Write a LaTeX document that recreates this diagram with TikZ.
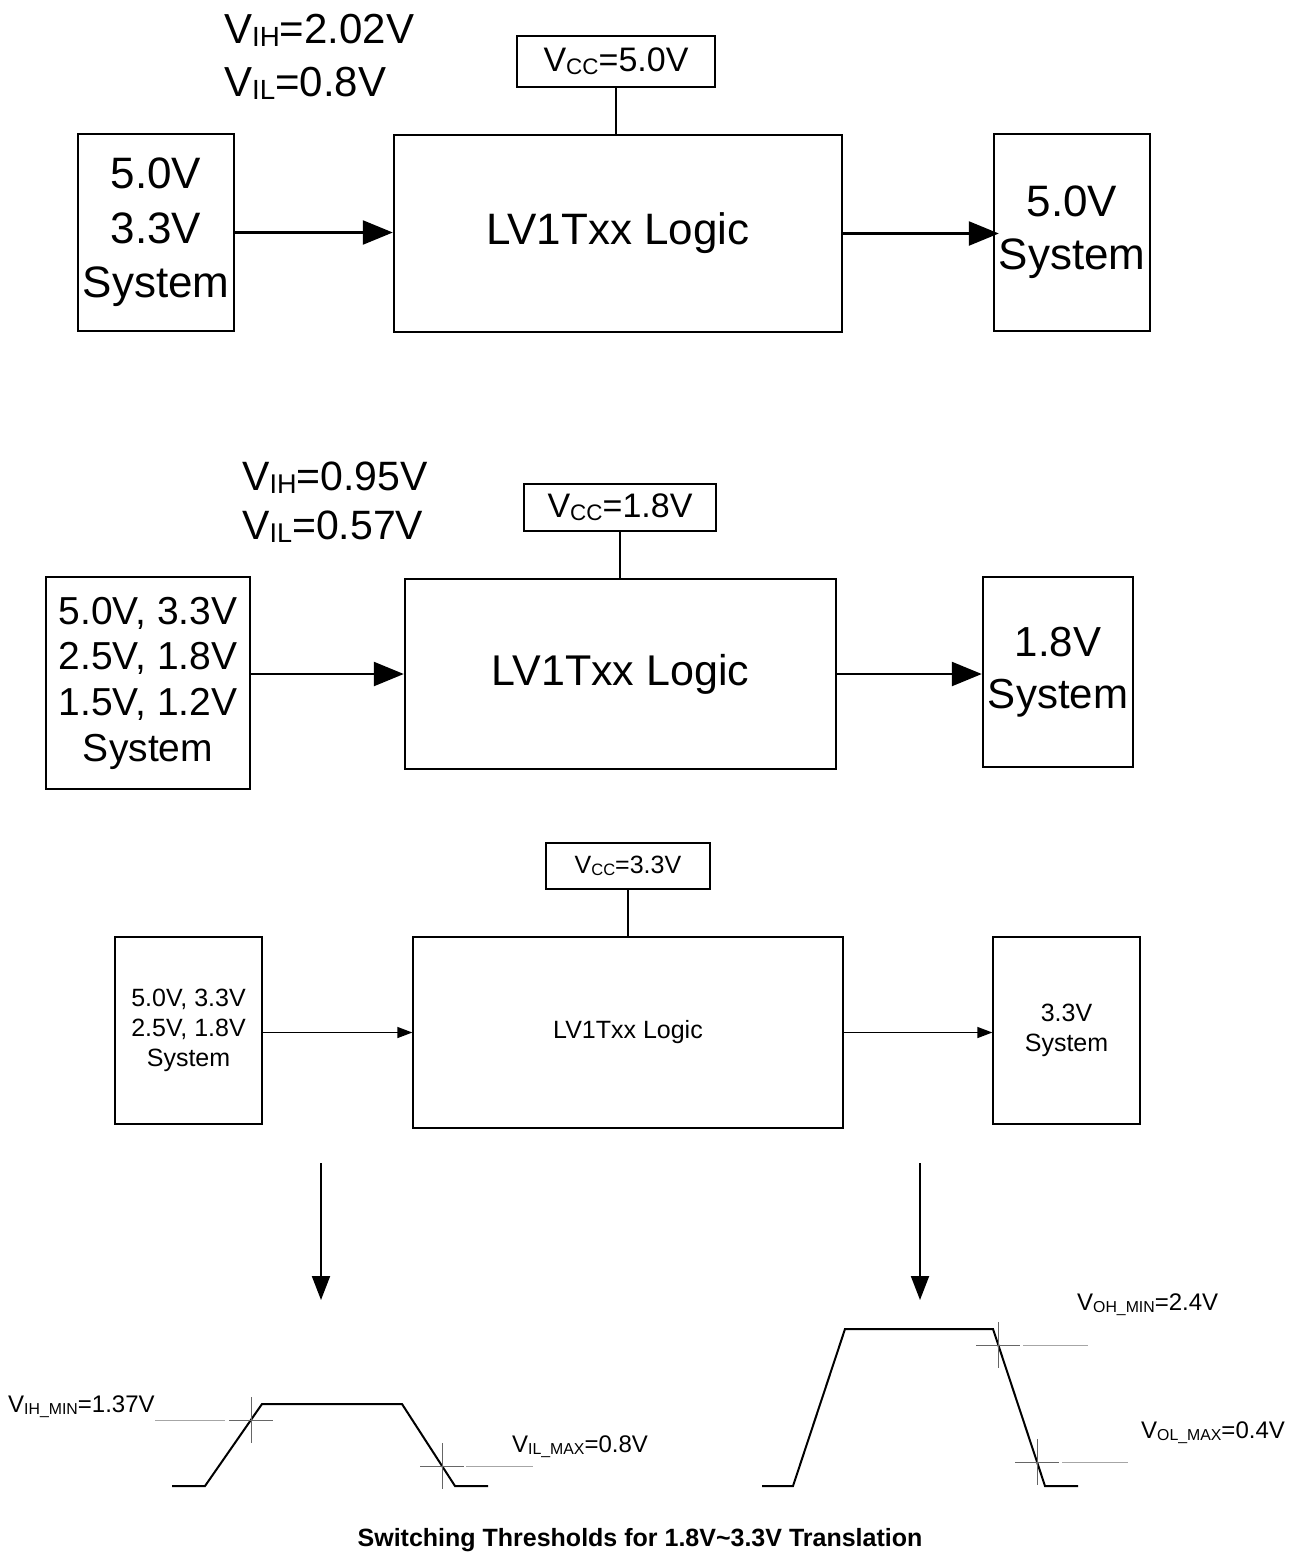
\documentclass[tikz,border=0pt]{standalone}
\usepackage{fontspec}
\usepackage{graphicx}
\setmainfont{Liberation Sans}
\usetikzlibrary{arrows.meta}

% small lowered index, as in V_IH
\newcommand{\vsub}[1]{\raisebox{-0.08em}{\scalebox{0.66}{#1}}}

\tikzset{
  blk/.style={draw, line width=2.4pt, align=center, inner sep=0pt},
  thinblk/.style={draw, line width=1.3pt, align=center, inner sep=0pt},
  bigarrow/.style={line width=2.4pt, -{Triangle[length=30pt,width=24pt]}},
  smallarrow/.style={line width=1.3pt, -{Triangle[length=15pt,width=11pt]}},
  downarrow/.style={line width=2pt, -{Triangle[length=24pt,width=18pt]}},
  wave/.style={line width=2pt},
  xhair/.style={gray!80!black, line width=1pt},
  guide/.style={gray!70, line width=0.9pt},
}

\begin{document}
\begin{tikzpicture}[x=1pt,y=-1pt]
\useasboundingbox (0,0) rectangle (1304,1553);

% VCC = 5.0V
\node[blk, minimum width=156pt, minimum height=197pt, font=\fontsize{44}{54.5}\selectfont] (in1) at (156,232.5) {5.0V\\3.3V\\System};
\node[blk, minimum width=448pt, minimum height=197pt, font=\fontsize{44}{53}\selectfont] (logic1) at (618,233.5) {LV1Txx Logic};
\node[blk, minimum width=198pt, minimum height=51pt, font=\fontsize{34}{40}\selectfont] (vcc1) at (616,61.5) {V\vsub{CC}=5.0V};
\node[blk, minimum width=156pt, minimum height=197pt, font=\fontsize{44}{53}\selectfont] (out1) at (1072,232.5) {5.0V\\System};
\node[anchor=west, align=left, inner sep=0pt, font=\fontsize{42}{53}\selectfont] (th1) at (224,57) {V\vsub{IH}=2.02V\\V\vsub{IL}=0.8V};
\draw[line width=2.4pt] (vcc1.south) -- (vcc1.south |- logic1.north);
\draw[bigarrow] (in1.east) -- (in1.east -| logic1.west);
\draw[bigarrow, shorten >=-6pt] (logic1.east) -- (logic1.east -| out1.west);

% VCC = 1.8V
\node[blk, minimum width=204pt, minimum height=212pt, font=\fontsize{39}{45.7}\selectfont] (in2) at (148,683) {5.0V, 3.3V\\2.5V, 1.8V\\1.5V, 1.2V\\System};
\node[blk, minimum width=431pt, minimum height=190pt, font=\fontsize{43}{52}\selectfont] (logic2) at (620.5,674) {LV1Txx Logic};
\node[blk, minimum width=192pt, minimum height=47pt, font=\fontsize{34}{40}\selectfont] (vcc2) at (620,507.5) {V\vsub{CC}=1.8V};
\node[blk, minimum width=150pt, minimum height=190pt, font=\fontsize{42}{52}\selectfont] (out2) at (1058,672) {1.8V\\System};
\node[anchor=west, align=left, inner sep=0pt, font=\fontsize{41}{49}\selectfont] (th2) at (242,502.5) {V\vsub{IH}=0.95V\\V\vsub{IL}=0.57V};
\draw[line width=2.4pt] (vcc2.south) -- (vcc2.south |- logic2.north);
\draw[bigarrow] (logic2.west -| in2.east) -- (logic2.west);
\draw[bigarrow] (logic2.east) -- (logic2.east -| out2.west);

% VCC = 3.3V
\node[thinblk, minimum width=147pt, minimum height=187pt, font=\fontsize{25}{30}\selectfont] (in3) at (188.5,1030.5) {5.0V, 3.3V\\2.5V, 1.8V\\System};
\node[thinblk, minimum width=430pt, minimum height=191pt, font=\fontsize{25}{30}\selectfont] (logic3) at (628,1032.5) {LV1Txx Logic};
\node[thinblk, minimum width=164pt, minimum height=46pt, font=\fontsize{25}{30}\selectfont] (vcc3) at (628,866) {V\vsub{CC}=3.3V};
\node[thinblk, minimum width=147pt, minimum height=187pt, font=\fontsize{25}{30}\selectfont] (out3) at (1066.5,1030.5) {3.3V\\System};
\draw[line width=1.3pt] (vcc3.south) -- (vcc3.south |- logic3.north);
\draw[smallarrow] (logic3.west -| in3.east) -- (logic3.west);
\draw[smallarrow] (logic3.east) -- (logic3.east -| out3.west);

% arrows down to the waveforms
\coordinate (inTop) at (321,1163);
\coordinate (inBot) at (321,1300);
\coordinate (outTop) at (920,1163);
\coordinate (outBot) at (920,1300);
\draw[downarrow] (inTop) -- (inBot);
\draw[downarrow] (outTop) -- (outBot);

% input waveform
\draw[wave] (172,1486) -- (205,1486) -- (262,1404) -- (402,1404) -- (455,1486) -- (488,1486);
\draw[xhair] (229,1420) -- (273,1420);
\draw[xhair] (251,1397) -- (251,1443);
\draw[guide] (155,1420) -- (225,1420);
\draw[xhair] (420,1466) -- (464,1466);
\draw[xhair] (442,1443) -- (442,1489);
\draw[guide] (466,1466) -- (533,1466);
\node[anchor=west, inner sep=0pt, font=\fontsize{24}{28}\selectfont] (vihmin) at (8,1407) {V\vsub{IH\_MIN}=1.37V};
\node[anchor=west, inner sep=0pt, font=\fontsize{24}{28}\selectfont] (vilmax) at (512,1447) {V\vsub{IL\_MAX}=0.8V};

% output waveform
\draw[wave] (762,1486) -- (793,1486) -- (845,1329) -- (993,1329) -- (1045,1486) -- (1078,1486);
\draw[xhair] (976,1345) -- (1020,1345);
\draw[xhair] (998,1322) -- (998,1368);
\draw[guide] (1023,1345) -- (1088,1345);
\draw[xhair] (1015,1462) -- (1059,1462);
\draw[xhair] (1037,1439) -- (1037,1485);
\draw[guide] (1062,1462) -- (1128,1462);
\node[anchor=west, inner sep=0pt, font=\fontsize{24}{28}\selectfont] (vohmin) at (1077,1305) {V\vsub{OH\_MIN}=2.4V};
\node[anchor=west, inner sep=0pt, font=\fontsize{24}{28}\selectfont] (volmax) at (1141,1433) {V\vsub{OL\_MAX}=0.4V};

% caption
\node[font=\fontsize{25}{29}\selectfont\bfseries] (caption) at (640,1540) {Switching Thresholds for 1.8V\textasciitilde 3.3V Translation};
\end{tikzpicture}
\end{document}
